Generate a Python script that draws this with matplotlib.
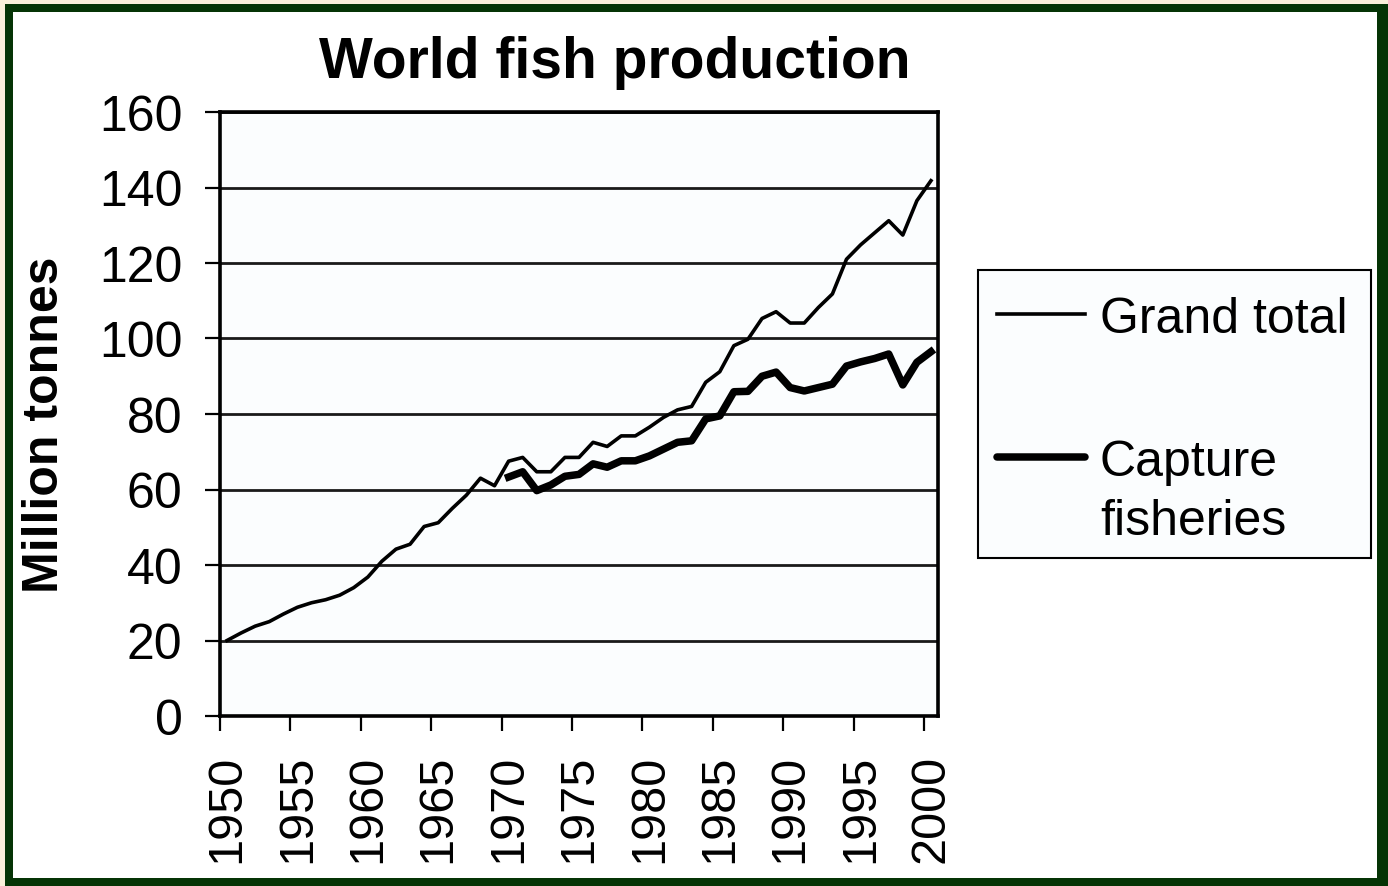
import matplotlib
matplotlib.use("Agg")
import matplotlib.pyplot as plt
from matplotlib.patches import Rectangle
from matplotlib.lines import Line2D
from matplotlib.ticker import MultipleLocator, FixedLocator

years = list(range(1950, 2001))
grand_total = [20.0, 22.0, 23.8, 25.0, 27.0, 28.8, 30.0, 30.8, 32.0, 34.0,
               36.8, 41.0, 44.2, 45.5, 50.2, 51.2, 55.0, 58.5, 63.0, 61.0,
               67.5, 68.5, 64.7, 64.7, 68.5, 68.5, 72.5, 71.4, 74.2, 74.2,
               76.5, 79.1, 81.1, 82.0, 88.4, 91.2, 98.1, 99.8, 105.3, 107.1,
               104.1, 104.1, 108.2, 111.8, 121.0, 124.8, 128.0, 131.2, 127.4, 136.5,
               141.8]

capture_years = list(range(1970, 2001))
capture = [63.3, 64.7, 59.7, 61.2, 63.5, 64.0, 66.8, 65.9, 67.6, 67.6,
           68.9, 70.7, 72.5, 72.9, 78.7, 79.5, 85.9, 86.0, 90.0, 91.1,
           87.0, 86.1, 87.0, 87.9, 92.7, 93.8, 94.7, 95.9, 87.7, 93.7,
           96.5]

title = "World fish production"
ylabel = "Million tonnes"
legend_labels = ["Grand total", ["Capture", "fisheries"]]

W, H = 1388, 887
plt.rcParams['font.family'] = ['Liberation Sans', 'DejaVu Sans']

fig = plt.figure(figsize=(W / 100, H / 100), dpi=100)
fig.patch.set_facecolor('#fbf0da')


def fx(x):
    return x / W


def fy(y):
    return 1 - y / H


# dark green frame around a white panel
fig.add_artist(Rectangle((fx(5), fy(H + 10)), fx(W + 10), (H + 5) / H,
                         transform=fig.transFigure, facecolor='#053405',
                         edgecolor='none', zorder=-3))
fig.add_artist(Rectangle((fx(13), fy(879)), fx(1377 - 13), (879 - 13) / H,
                         transform=fig.transFigure, facecolor='white',
                         edgecolor='none', zorder=-2))

ax = fig.add_axes([fx(220), fy(717), fx(938 - 220), (717 - 113) / H])
ax.set_facecolor('#fbfdfe')

ax.plot(years, grand_total, color='black', lw=2.6, solid_joinstyle='round', zorder=3)
ax.plot(capture_years, capture, color='black', lw=5.4, solid_joinstyle='round', zorder=3)

ax.set_xlim(1949.5, 2000.5)
ax.set_ylim(0, 160)
ax.yaxis.set_major_locator(MultipleLocator(20))
ax.grid(axis='y', color='#1a1a1a', lw=2.0)
ax.set_axisbelow(True)

# tick marks sit on category boundaries, labels on the categories
ax.set_xticks(range(1950, 2001, 5))
ax.set_xticklabels([str(y) for y in range(1950, 2001, 5)], rotation=90)
ax.xaxis.set_minor_locator(FixedLocator([y - 0.5 for y in range(1950, 2001, 5)]))
ax.tick_params(axis='x', which='major', length=0, pad=27, labelsize=35)
ax.tick_params(axis='x', which='minor', length=11, width=1.6, direction='out')
ax.tick_params(axis='y', length=11, width=1.6, direction='out', pad=16, labelsize=36)

for s in ax.spines.values():
    s.set_linewidth(2.6)
    s.set_color('black')

fig.text(fx(615), fy(78), title, ha='center', va='baseline',
         fontsize=41, fontweight='bold')
fig.text(fx(45), fy(425), ylabel, ha='center', va='center', rotation=90,
         fontsize=36, fontweight='bold')

# legend box
fig.add_artist(Rectangle((fx(978), fy(559)), fx(1371 - 978), (559 - 271) / H,
                         transform=fig.transFigure, facecolor='#fbfdfe',
                         edgecolor='black', lw=1.5, zorder=4))
fig.add_artist(Line2D([fx(997), fx(1085)], [fy(315), fy(315)],
                      transform=fig.transFigure, color='black', lw=2.6, zorder=5))
fig.add_artist(Line2D([fx(997), fx(1085)], [fy(458), fy(458)],
                      transform=fig.transFigure, color='black', lw=5.4,
                      solid_capstyle='round', zorder=5))
fig.text(fx(1100), fy(333), legend_labels[0], ha='left', va='baseline',
         fontsize=36, zorder=6)
fig.text(fx(1100), fy(476), legend_labels[1][0], ha='left', va='baseline',
         fontsize=36, zorder=6)
fig.text(fx(1100), fy(535), legend_labels[1][1], ha='left', va='baseline',
         fontsize=36, zorder=6)

fig.savefig('out.png', dpi=100, facecolor=fig.get_facecolor())
